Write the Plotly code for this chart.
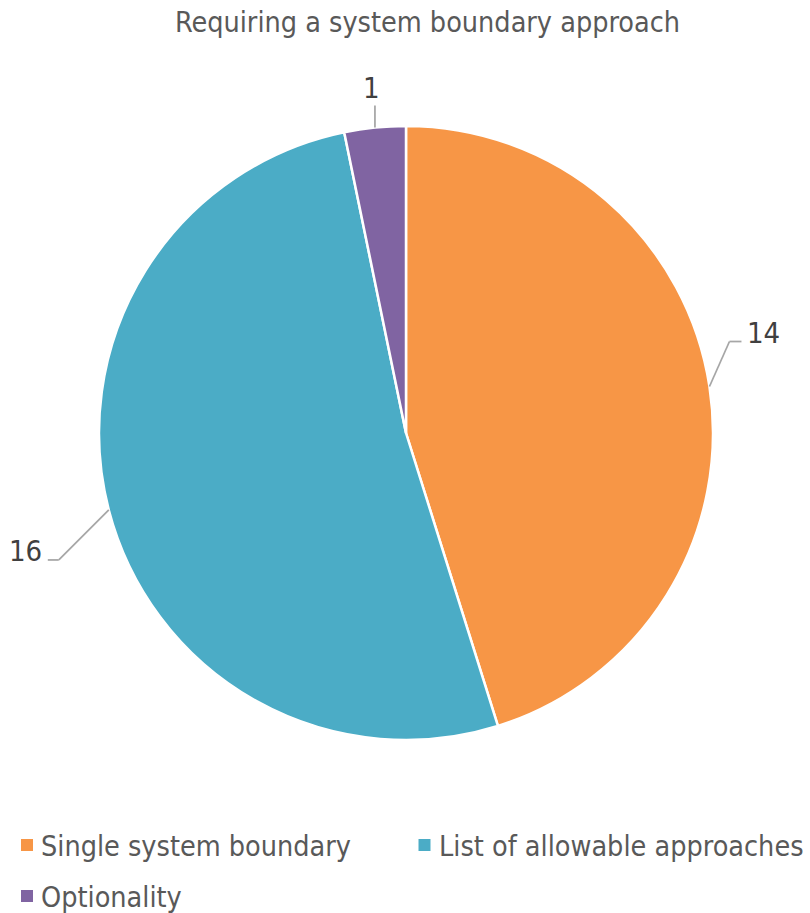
import math
import plotly.graph_objects as go

# Data
categories = ["Single system boundary", "List of allowable approaches", "Optionality"]
counts = [14, 16, 1]
colors = ["#F79646", "#4BACC6", "#8064A2"]

W, H = 810, 913
FONT = "Tahoma, 'DejaVu Sans Condensed', 'DejaVu Sans', sans-serif"

# Pie geometry in pixels
cx, cy, R = 406, 433, 307


def px(x):
    return x / W


def py(y):
    return 1 - y / H


fig = go.Figure(
    go.Pie(
        labels=categories,
        values=counts,
        marker=dict(colors=colors, line=dict(color="white", width=2.5)),
        sort=False,
        direction="clockwise",
        rotation=0,
        textinfo="none",
        hoverinfo="label+value",
        showlegend=False,
        domain=dict(x=[px(cx - R), px(cx + R)], y=[py(cy + R), py(cy - R)]),
    )
)

# Leader-line styling per slice: offset from slice edge to elbow, horizontal tail
leader_style = [
    dict(dx=20, dy=-45, tail=12, gap=4),
    dict(dx=-50, dy=50, tail=-11, gap=4),
    dict(dx=0, dy=-22, tail=0, gap=4),
]

total = sum(counts)
shapes, annotations = [], []
start = 0.0
for val, st in zip(counts, leader_style):
    mid = (start + val / 2) / total * 2 * math.pi
    start += val
    ex = cx + R * math.sin(mid)
    ey = cy - R * math.cos(mid)
    bx, by = ex + st["dx"], ey + st["dy"]
    tx = bx + st["tail"]
    line = dict(color="#A6A6A6", width=1.75)
    shapes.append(dict(type="line", xref="paper", yref="paper",
                       x0=px(ex), y0=py(ey), x1=px(bx), y1=py(by), line=line))
    if st["tail"] != 0:
        shapes.append(dict(type="line", xref="paper", yref="paper",
                           x0=px(bx), y0=py(by), x1=px(tx), y1=py(by), line=line))
        xanchor = "left" if st["tail"] > 0 else "right"
        ax = tx + (st["gap"] if st["tail"] > 0 else -st["gap"])
        annotations.append(dict(text=str(val), x=px(ax), y=py(by - 9), xref="paper",
                                yref="paper", xanchor=xanchor, yanchor="middle",
                                showarrow=False, font=dict(size=29, color="#404040", family=FONT)))
    else:
        annotations.append(dict(text=str(val), x=px(bx - 3), y=py(by + 1), xref="paper",
                                yref="paper", xanchor="center", yanchor="bottom",
                                showarrow=False, font=dict(size=29, color="#404040", family=FONT)))

# Legend: colour square + label, two columns
legend_slots = [(27, 845), (424.5, 845), (27, 896)]
for name, col, (sx, sy) in zip(categories, colors, legend_slots):
    shapes.append(dict(type="rect", xref="paper", yref="paper",
                       x0=px(sx - 6), x1=px(sx + 6), y0=py(sy + 6), y1=py(sy - 6),
                       fillcolor=col, line=dict(width=0)))
    annotations.append(dict(text=name, x=px(sx + 12), y=py(sy + 1), xref="paper", yref="paper",
                            xanchor="left", yanchor="middle", showarrow=False,
                            font=dict(size=28.5, color="#595959", family=FONT)))

fig.update_layout(
    width=W,
    height=H,
    margin=dict(l=0, r=0, t=0, b=0),
    paper_bgcolor="white",
    plot_bgcolor="white",
    title=dict(text="Requiring a system boundary approach", x=427.5 / W, xanchor="center",
               y=py(22), yanchor="middle",
               font=dict(size=28.5, color="#595959", family=FONT)),
    font=dict(family=FONT, color="#595959"),
    showlegend=False,
    shapes=shapes,
    annotations=annotations,
)

fig.write_html("out.html")
